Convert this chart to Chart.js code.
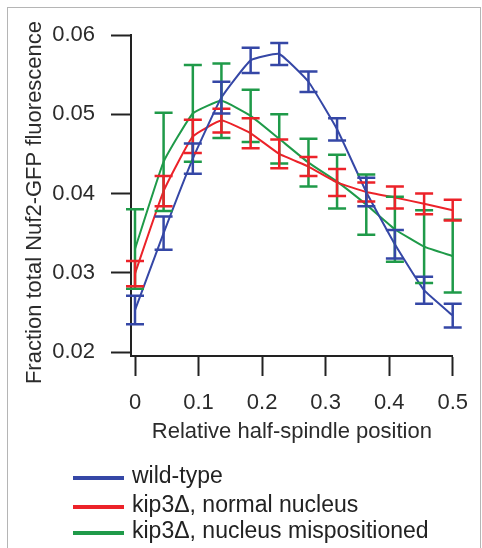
<!DOCTYPE html>
<html>
<head>
<meta charset="utf-8">
<script src="https://cdn.jsdelivr.net/npm/chart.js@4.4.1/dist/chart.umd.min.js"></script>
<style>
  html, body { margin: 0; padding: 0; background: #fff; }
</style>
</head>
<body>
<canvas id="myChart" width="482" height="548"></canvas>
<script>
  // relative half-spindle positions (12 bins)
  var positions = [0, 0.045, 0.091, 0.136, 0.182, 0.227, 0.273, 0.318, 0.364, 0.409, 0.455, 0.5];

  var wildType    = [0.0253, 0.0350, 0.0444, 0.0521, 0.0568, 0.0576, 0.0541, 0.0481, 0.0402, 0.0336, 0.0278, 0.0246];
  var wildTypeErr = [0.0018, 0.0021, 0.0019, 0.0020, 0.0016, 0.0014, 0.0013, 0.0014, 0.0018, 0.0018, 0.0017, 0.0015];

  var kipNormal    = [0.0299, 0.0403, 0.0472, 0.0492, 0.0476, 0.0450, 0.0434, 0.0414, 0.0402, 0.0395, 0.0387, 0.0379];
  var kipNormalErr = [0.0016, 0.0019, 0.0021, 0.0015, 0.0019, 0.0018, 0.0012, 0.0017, 0.0012, 0.0014, 0.0013, 0.0013];

  var kipMispos    = [0.0330, 0.0440, 0.0501, 0.0517, 0.0498, 0.0469, 0.0439, 0.0415, 0.0386, 0.0355, 0.0333, 0.0321];
  var kipMisposErr = [0.0050, 0.0062, 0.0061, 0.0047, 0.0033, 0.0031, 0.0030, 0.0034, 0.0038, 0.0041, 0.0046, 0.0046];

  var seriesLabels = ['wild-type', 'kip3\u0394, normal nucleus', 'kip3\u0394, nucleus mispositioned'];
  var seriesColors = ['#3547a6', '#ec2229', '#1f9a49'];

  var xTickValues = [0, 0.1, 0.2, 0.3, 0.4, 0.5];
  var xTickLabels = ['0', '0.1', '0.2', '0.3', '0.4', '0.5'];
  var yTickValues = [0.02, 0.03, 0.04, 0.05, 0.06];
  var yTickLabels = ['0.02', '0.03', '0.04', '0.05', '0.06'];

  var xTitle = 'Relative half-spindle position';
  var yTitle = 'Fraction total Nuf2-GFP fluorescence';

  var FONT = "'Liberation Sans', Arial, sans-serif";
  var INK = '#2b2b2b';

  function toPoints(ys) {
    return ys.map(function (v, i) { return { x: positions[i], y: v }; });
  }

  // frame around the whole figure
  var frame = {
    id: 'frame',
    beforeDraw: function (chart) {
      var ctx = chart.ctx;
      ctx.save();
      ctx.fillStyle = '#fff';
      ctx.fillRect(0, 0, chart.width, chart.height);
      ctx.strokeStyle = '#b5b5b5';
      ctx.lineWidth = 1;
      ctx.strokeRect(7.5, 7.5, 473, 600);
      ctx.restore();
    }
  };

  // y title, sitting a bit lower than the axis middle like the original
  var yTitleDraw = {
    id: 'yTitleDraw',
    afterDraw: function (chart) {
      var ctx = chart.ctx, ys = chart.scales.y;
      var mid = (ys.top + ys.bottom) / 2 + 7;
      ctx.save();
      ctx.translate(35, mid);
      ctx.rotate(-Math.PI / 2);
      ctx.font = '22px ' + FONT;
      ctx.fillStyle = INK;
      ctx.textAlign = 'center';
      ctx.textBaseline = 'middle';
      ctx.fillText(yTitle, 0, 0);
      ctx.restore();
    }
  };

  // vertical error bars with caps
  var errorBars = {
    id: 'errorBars',
    afterDatasetsDraw: function (chart) {
      var ctx = chart.ctx, xs = chart.scales.x, ys = chart.scales.y;
      chart.data.datasets.slice().reverse().forEach(function (ds) {
        ctx.save();
        ctx.strokeStyle = ds.borderColor;
        ctx.lineWidth = 2.5;
        ds.data.forEach(function (p, i) {
          var px = xs.getPixelForValue(p.x);
          var top = ys.getPixelForValue(p.y + ds.errors[i]);
          var bot = ys.getPixelForValue(p.y - ds.errors[i]);
          ctx.beginPath();
          ctx.moveTo(px, top); ctx.lineTo(px, bot);
          ctx.moveTo(px - 9, top); ctx.lineTo(px + 9, top);
          ctx.moveTo(px - 9, bot); ctx.lineTo(px + 9, bot);
          ctx.stroke();
        });
        ctx.restore();
      });
    }
  };

  // legend stacked under the x axis title
  var stackedLegend = {
    id: 'stackedLegend',
    afterDraw: function (chart) {
      var ctx = chart.ctx;
      var rows = [478, 507, 533];
      ctx.save();
      ctx.font = '23px ' + FONT;
      ctx.textBaseline = 'middle';
      ctx.fillStyle = '#222';
      chart.data.datasets.forEach(function (ds, i) {
        ctx.strokeStyle = ds.borderColor;
        ctx.lineWidth = 4;
        ctx.beginPath();
        ctx.moveTo(73, rows[i]);
        ctx.lineTo(124, rows[i]);
        ctx.stroke();
        ctx.fillText(ds.label, 132, rows[i] - 1);
      });
      ctx.restore();
    }
  };

  function makeDataset(i, values, errors) {
    return {
      label: seriesLabels[i],
      data: toPoints(values),
      errors: errors,
      borderColor: seriesColors[i],
      backgroundColor: seriesColors[i],
      borderWidth: 2,
      pointRadius: 0,
      tension: 0.12,
      fill: false
    };
  }

  var ctx = document.getElementById('myChart').getContext('2d');
  var myChart = new Chart(ctx, {
    type: 'line',
    data: {
      datasets: [
        makeDataset(0, wildType, wildTypeErr),
        makeDataset(1, kipNormal, kipNormalErr),
        makeDataset(2, kipMispos, kipMisposErr)
      ]
    },
    options: {
      responsive: false,
      animation: false,
      devicePixelRatio: 1,
      layout: { padding: { top: 35, right: 29, left: 0, bottom: 0 } },
      plugins: {
        legend: { display: false },
        tooltip: { enabled: false }
      },
      scales: {
        x: {
          type: 'linear',
          min: -0.0063,
          max: 0.5,
          afterFit: function (scale) { scale.height = 192; },
          afterBuildTicks: function (scale) {
            scale.ticks = xTickValues.map(function (v) { return { value: v }; });
          },
          ticks: {
            autoSkip: false,
            maxRotation: 0,
            padding: 14,
            color: INK,
            font: { family: FONT, size: 22 },
            callback: function (value, index) { return xTickLabels[index]; }
          },
          grid: {
            drawOnChartArea: false,
            drawTicks: true,
            tickLength: 20,
            tickWidth: 2,
            tickColor: '#222'
          },
          border: { display: true, color: '#222', width: 2 },
          title: {
            display: true,
            text: xTitle,
            color: INK,
            font: { family: FONT, size: 22 },
            padding: { top: 0, bottom: 103 }
          }
        },
        y: {
          type: 'linear',
          min: 0.0195,
          max: 0.06,
          afterFit: function (scale) { scale.width = 131; },
          afterBuildTicks: function (scale) {
            scale.ticks = yTickValues.map(function (v) { return { value: v }; });
          },
          ticks: {
            autoSkip: false,
            padding: 16,
            color: INK,
            font: { family: FONT, size: 22 },
            callback: function (value, index) { return yTickLabels[index]; }
          },
          grid: {
            drawOnChartArea: false,
            drawTicks: true,
            tickLength: 20,
            tickWidth: 2,
            tickColor: '#222'
          },
          border: { display: true, color: '#222', width: 2 }
        }
      }
    },
    plugins: [frame, errorBars, stackedLegend, yTitleDraw]
  });
</script>
</body>
</html>
